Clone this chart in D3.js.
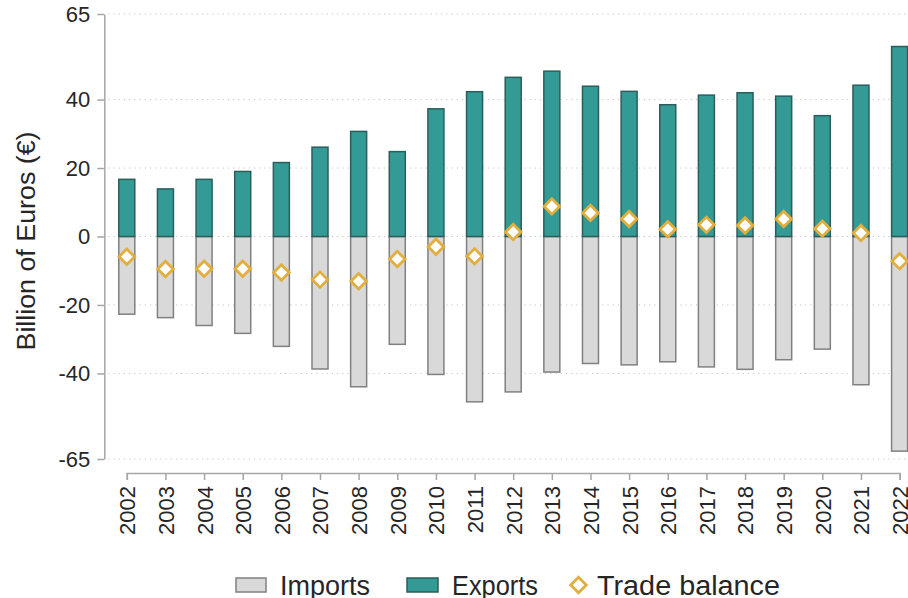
<!DOCTYPE html>
<html>
<head>
<meta charset="utf-8">
<script src="https://cdn.jsdelivr.net/npm/d3@7"></script>
<style>
  html, body { margin: 0; padding: 0; background: #fff; }
  svg { display: block; font-family: "Liberation Sans", Arial, sans-serif; }
</style>
</head>
<body>
<svg id="chart" width="908" height="598"></svg>
<script>
const years = ["2002","2003","2004","2005","2006","2007","2008","2009","2010","2011","2012","2013","2014","2015","2016","2017","2018","2019","2020","2021","2022"];
const exportsVals = [16.7, 13.9, 16.7, 19.0, 21.6, 26.1, 30.7, 24.8, 37.3, 42.3, 46.5, 48.3, 43.9, 42.4, 38.5, 41.3, 42.0, 41.0, 35.3, 44.2, 55.5];
const importsVals = [-22.7, -23.7, -26.0, -28.3, -32.1, -38.7, -43.9, -31.5, -40.3, -48.3, -45.4, -39.6, -37.1, -37.5, -36.6, -38.1, -38.8, -36.0, -32.9, -43.3, -62.7];
const balanceVals = [-5.9, -9.5, -9.4, -9.4, -10.5, -12.6, -13.1, -6.6, -3.0, -5.8, 1.3, 8.8, 6.9, 5.1, 2.1, 3.4, 3.2, 5.1, 2.3, 1.0, -7.2];
const yTicks = [-65, -40, -20, 0, 20, 40, 65];
const seriesNames = ["Imports", "Exports", "Trade balance"];

const svg = d3.select("#chart");
const axisX = 104.3;
const y = d3.scaleLinear().domain([-65, 65]).range([459, 14]);
const x = d3.scalePoint().domain(years).range([126.8, 899.6]);
const barW = 16;

const C = {
  impFill: "#d9d9d9", impStroke: "#808080",
  expFill: "#349a96", expStroke: "#2a5e5b",
  bal: "#e2ae3c", grid: "#c4c4c4", axis: "#a6a6a6", text: "#262626"
};

// gridlines
svg.append("g").selectAll("line").data(yTicks).join("line")
  .attr("x1", axisX + 4).attr("x2", 908)
  .attr("y1", d => y(d)).attr("y2", d => y(d))
  .attr("stroke", C.grid).attr("stroke-width", 1)
  .attr("stroke-dasharray", "1.2,4");

// y axis
const yAxis = svg.append("g").attr("transform", `translate(${axisX},0)`)
  .call(d3.axisLeft(y).tickValues(yTicks).tickSize(7).tickSizeOuter(0).tickPadding(7).tickFormat(d3.format("d")));
yAxis.select(".domain").attr("stroke", C.axis).attr("stroke-width", 1.5);
yAxis.selectAll(".tick line").attr("stroke", C.axis).attr("stroke-width", 1.5);
yAxis.selectAll(".tick text").attr("fill", C.text).style("font-size", "22px")
  .text(d => d < 0 ? "-" + Math.abs(d) : d);

// x axis
const xAxis = svg.append("g").attr("transform", "translate(0,473)")
  .call(d3.axisBottom(x).tickSize(7).tickSizeOuter(7).tickPadding(6));
xAxis.select(".domain").attr("stroke", C.axis).attr("stroke-width", 1.5);
xAxis.selectAll(".tick line").attr("stroke", C.axis).attr("stroke-width", 1.5);
xAxis.selectAll(".tick text").attr("fill", C.text).style("font-size", "22px")
  .attr("transform", "rotate(-90)")
  .attr("text-anchor", "end")
  .attr("x", -13).attr("y", 0).attr("dy", "0.36em");

// imports bars
svg.append("g").selectAll("rect").data(years).join("rect")
  .attr("x", d => x(d) - barW / 2)
  .attr("y", y(0))
  .attr("width", barW)
  .attr("height", (d, i) => y(importsVals[i]) - y(0))
  .attr("fill", C.impFill).attr("stroke", C.impStroke).attr("stroke-width", 1.5);

// exports bars
svg.append("g").selectAll("rect").data(years).join("rect")
  .attr("x", d => x(d) - barW / 2)
  .attr("y", (d, i) => y(exportsVals[i]))
  .attr("width", barW)
  .attr("height", (d, i) => y(0) - y(exportsVals[i]))
  .attr("fill", C.expFill).attr("stroke", C.expStroke).attr("stroke-width", 1.5);

// trade balance diamonds
const diamond = d3.symbol().type(d3.symbolSquare).size(120);
svg.append("g").selectAll("path").data(years).join("path")
  .attr("d", diamond)
  .attr("transform", (d, i) => `translate(${x(d)},${y(balanceVals[i])}) rotate(45)`)
  .attr("fill", "#fff").attr("stroke", C.bal).attr("stroke-width", 2.8);

// y label
svg.append("text")
  .attr("transform", "translate(35,241) rotate(-90)")
  .attr("text-anchor", "middle")
  .attr("fill", C.text)
  .style("font-size", "26.5px")
  .attr("textLength", 219).attr("lengthAdjust", "spacingAndGlyphs")
  .text("Billion of Euros (€)");

// legend
const lg = svg.append("g");
lg.append("rect").attr("x", 236).attr("y", 578).attr("width", 30).attr("height", 14)
  .attr("fill", C.impFill).attr("stroke", C.impStroke).attr("stroke-width", 1.5);
lg.append("text").attr("x", 280).attr("y", 595).attr("fill", C.text).style("font-size", "27px")
  .attr("textLength", 90).attr("lengthAdjust", "spacingAndGlyphs").text(seriesNames[0]);
lg.append("rect").attr("x", 407).attr("y", 578).attr("width", 31).attr("height", 14)
  .attr("fill", C.expFill).attr("stroke", C.expStroke).attr("stroke-width", 1.5);
lg.append("text").attr("x", 452).attr("y", 595).attr("fill", C.text).style("font-size", "27px")
  .attr("textLength", 86).attr("lengthAdjust", "spacingAndGlyphs").text(seriesNames[1]);
lg.append("path").attr("d", diamond)
  .attr("transform", "translate(578.5,585) rotate(45)")
  .attr("fill", "#fff").attr("stroke", C.bal).attr("stroke-width", 2.8);
lg.append("text").attr("x", 597).attr("y", 595).attr("fill", C.text).style("font-size", "27px")
  .attr("textLength", 183).attr("lengthAdjust", "spacingAndGlyphs").text(seriesNames[2]);
</script>
</body>
</html>
